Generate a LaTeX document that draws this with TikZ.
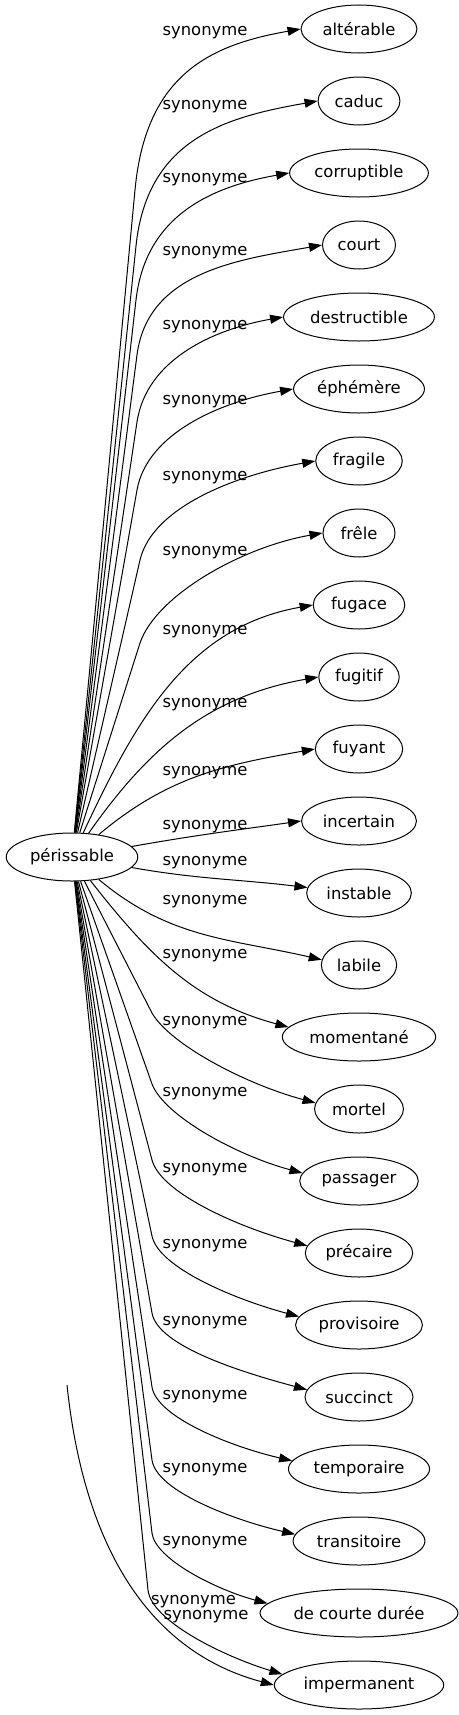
\documentclass[tikz,border=0pt]{standalone}
\usepackage{fontspec}
\setmainfont{DejaVu Sans}
\usetikzlibrary{shapes.geometric,arrows.meta}

\tikzset{
  word/.style={draw, ellipse, inner xsep=4.5bp, inner ysep=0pt, minimum width=72bp, minimum height=48bp},
  syn/.style={->},
}

\begin{document}
\begin{tikzpicture}[x=1bp, y=-1bp, line width=1bp, >={Triangle[length=13bp,width=9bp]},
  every node/.style={font=\fontsize{16.4bp}{19bp}\selectfont}]
\useasboundingbox (0,0) rectangle (459,1715);
% words
\node [word] (perissable) at (72,857) {périssable};
\node [word] (alterable) at (359,29) {altérable};
\node [word] (caduc) at (359,101) {caduc};
\node [word] (corruptible) at (359,173) {corruptible};
\node [word] (court) at (359,245) {court};
\node [word] (destructible) at (359,317) {destructible};
\node [word] (ephemere) at (359,389) {éphémère};
\node [word] (fragile) at (359,461) {fragile};
\node [word] (frele) at (359,533) {frêle};
\node [word] (fugace) at (359,605) {fugace};
\node [word] (fugitif) at (359,677) {fugitif};
\node [word] (fuyant) at (359,749) {fuyant};
\node [word] (incertain) at (359,821) {incertain};
\node [word] (instable) at (359,893) {instable};
\node [word] (labile) at (359,965) {labile};
\node [word] (momentane) at (359,1037) {momentané};
\node [word] (mortel) at (359,1109) {mortel};
\node [word] (passager) at (359,1181) {passager};
\node [word] (precaire) at (359,1253) {précaire};
\node [word] (provisoire) at (359,1325) {provisoire};
\node [word] (succinct) at (359,1397) {succinct};
\node [word] (temporaire) at (359,1469) {temporaire};
\node [word] (transitoire) at (359,1541) {transitoire};
\node [word] (courte) at (359,1613) {de courte durée};
\node [word] (impermanent) at (359,1685) {impermanent};
% labels
\node (s0) at (205,33) {synonyme};
\node (s1) at (205,107) {synonyme};
\node (s2) at (205,180) {synonyme};
\node (s3) at (205,253) {synonyme};
\node (s4) at (205,327) {synonyme};
\node (s5) at (205,402) {synonyme};
\node (s6) at (205,478) {synonyme};
\node (s7) at (205,553) {synonyme};
\node (s8) at (205,632) {synonyme};
\node (s9) at (205,705) {synonyme};
\node (s10) at (205,773) {synonyme};
\node (s11) at (205,827) {synonyme};
\node (s12) at (205,863) {synonyme};
\node (s13) at (205,902) {synonyme};
\node (s14) at (205,956) {synonyme};
\node (s15) at (205,1023) {synonyme};
\node (s16) at (205,1094) {synonyme};
\node (s17) at (205,1170) {synonyme};
\node (s18) at (205,1246) {synonyme};
\node (s19) at (205,1323) {synonyme};
\node (s20) at (205,1397) {synonyme};
\node (s21) at (205,1470) {synonyme};
\node (s22) at (205,1543) {synonyme};
\node (s23) at (193.5,1602) {synonyme};
\node (s24) at (206,1617) {synonyme};
% edges
\draw [syn] (perissable) -- (135,190) to [out=84.7, in=190, out looseness=1.3] (alterable.west);
\draw [syn] (perissable) -- (136,246) to [out=84.1, in=190, out looseness=1.2] (caduc.west);
\draw [syn] (perissable) -- (136,300) to [out=83.5, in=190, out looseness=1.1] (corruptible.west);
\draw [syn] (perissable) -- (137,355) to [out=82.6, in=190] (court.west);
\draw [syn] (perissable) -- (137,422) to [out=81.4, in=190, out looseness=.9] (destructible.west);
\draw [syn] (perissable) -- (137,490) to [out=79.8, in=190, out looseness=.8] (ephemere.west);
\draw [syn] (perissable) -- (140,560) to [out=76.6, in=190, out looseness=.7] (fragile.west);
\draw [syn] (perissable) -- (140,643) to [out=71.1, in=190, out looseness=.6] (frele.west);
\draw [syn] (perissable) to [out=65, in=190] (fugace.west);
\draw [syn] (perissable) to [out=55, in=190] (fugitif.west);
\draw [syn] (perissable) to [out=40, in=190] (fuyant.west);
\draw [syn] (perissable) to [out=10, in=188] (incertain.west);
\draw [syn] (perissable) to [out=-10, in=173] (instable.174);
\draw [syn] (perissable) to [out=-40, in=167] (labile.172);
\draw [syn] (perissable) to [out=-52, in=165] (momentane.172);
\draw [syn] (perissable) -- (152,1013) to [out=-60, in=165, out looseness=.5] (mortel.172);
\draw [syn] (perissable) -- (152,1084) to [out=-69, in=165, out looseness=.5] (passager.172);
\draw [syn] (perissable) -- (152,1160) to [out=-75, in=165, out looseness=.5] (precaire.172);
\draw [syn] (perissable) -- (152,1236) to [out=-78, in=165, out looseness=.5] (provisoire.172);
\draw [syn] (perissable) -- (152,1313) to [out=-80, in=165, out looseness=.5] (succinct.172);
\draw [syn] (perissable) -- (152,1387) to [out=-81, in=167, out looseness=.5] (temporaire.173);
\draw [syn] (perissable) -- (152,1460) to [out=-82, in=167, out looseness=.5] (transitoire.174);
\draw [syn] (perissable) -- (152,1533) to [out=-83, in=165, out looseness=.5] (courte.174);
\draw [syn] (perissable) -- (148,1590) to [out=-84, in=163, out looseness=.5] (impermanent.172);
\coordinate (loose) at (67,1385);
\draw [syn] (loose) to [out=-84, in=165] (impermanent.west);
\end{tikzpicture}
\end{document}
